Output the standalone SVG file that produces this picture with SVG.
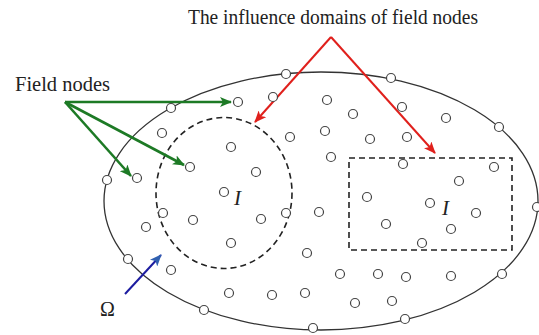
<svg xmlns="http://www.w3.org/2000/svg" width="539" height="335" viewBox="0 0 539 335">
<style>
.nd{fill:#fff;stroke:#444;stroke-width:1.2}
.dom{fill:none;stroke:#222;stroke-width:1.6;stroke-dasharray:6 4}
.g{stroke:#1d7a25;stroke-width:2.6;fill:none}
.r{stroke:#e0201c;stroke-width:2;fill:none}
.b{stroke:#1c1ca0;stroke-width:2;fill:none}
</style>
<defs>
<marker id="ag" markerUnits="userSpaceOnUse" markerWidth="12" markerHeight="10" refX="11" refY="5" orient="auto"><path d="M0,0 L12,5 L0,10 L3,5 Z" fill="#1d7a25"/></marker>
<marker id="ar" markerUnits="userSpaceOnUse" markerWidth="12" markerHeight="10" refX="11" refY="5" orient="auto"><path d="M0,0 L12,5 L0,10 L3,5 Z" fill="#e0201c"/></marker>
<marker id="ab" markerUnits="userSpaceOnUse" markerWidth="12" markerHeight="10" refX="11" refY="5" orient="auto"><path d="M0,0 L12,5 L0,10 L3,5 Z" fill="#3060b0"/></marker>
</defs>
<rect width="539" height="335" fill="#fff"/>
<g id="domain">
<ellipse cx="321" cy="201" rx="217" ry="129" fill="none" stroke="#333" stroke-width="1.3"/>
</g>
<g id="influence-circle"><ellipse class="dom" cx="224" cy="193" rx="68" ry="75.5"/></g>
<g id="influence-rect"><rect class="dom" x="349" y="158" width="163" height="92"/></g>
<g id="connectors">
<line class="g" x1="65" y1="102" x2="231" y2="102" marker-end="url(#ag)"/>
<line class="g" x1="65" y1="102" x2="184" y2="165" marker-end="url(#ag)"/>
<line class="g" x1="65" y1="102" x2="131" y2="176" marker-end="url(#ag)"/>
<line class="r" x1="331" y1="37" x2="255" y2="122" marker-end="url(#ar)"/>
<line class="r" x1="331" y1="37" x2="435" y2="153" marker-end="url(#ar)"/>
<line class="b" x1="125" y1="294" x2="161" y2="255" marker-end="url(#ab)"/>
</g>
<g id="nodes">
<circle class="nd" cx="286" cy="74" r="4.5"/>
<circle class="nd" cx="391" cy="78" r="4.5"/>
<circle class="nd" cx="499" cy="127" r="4.5"/>
<circle class="nd" cx="537" cy="207" r="4.5"/>
<circle class="nd" cx="502" cy="274" r="4.5"/>
<circle class="nd" cx="405" cy="319" r="4.5"/>
<circle class="nd" cx="313" cy="328" r="4.5"/>
<circle class="nd" cx="204" cy="310" r="4.5"/>
<circle class="nd" cx="128" cy="259" r="4.5"/>
<circle class="nd" cx="107" cy="180" r="4.5"/>
<circle class="nd" cx="171" cy="108" r="4.5"/>
<circle class="nd" cx="238" cy="102" r="4.5"/>
<circle class="nd" cx="273" cy="97" r="4.5"/>
<circle class="nd" cx="162" cy="133" r="4.5"/>
<circle class="nd" cx="231" cy="147" r="4.5"/>
<circle class="nd" cx="290" cy="137" r="4.5"/>
<circle class="nd" cx="190" cy="167" r="4.5"/>
<circle class="nd" cx="256" cy="172" r="4.5"/>
<circle class="nd" cx="137" cy="178" r="4.5"/>
<circle class="nd" cx="224" cy="192" r="4.5"/>
<circle class="nd" cx="327" cy="100" r="4.5"/>
<circle class="nd" cx="353" cy="114" r="4.5"/>
<circle class="nd" cx="402" cy="107" r="4.5"/>
<circle class="nd" cx="446" cy="118" r="4.5"/>
<circle class="nd" cx="325" cy="131" r="4.5"/>
<circle class="nd" cx="370" cy="139" r="4.5"/>
<circle class="nd" cx="407" cy="137" r="4.5"/>
<circle class="nd" cx="331" cy="157" r="4.5"/>
<circle class="nd" cx="403" cy="164" r="4.5"/>
<circle class="nd" cx="494" cy="167" r="4.5"/>
<circle class="nd" cx="459" cy="181" r="4.5"/>
<circle class="nd" cx="367" cy="197" r="4.5"/>
<circle class="nd" cx="163" cy="213" r="4.5"/>
<circle class="nd" cx="193" cy="220" r="4.5"/>
<circle class="nd" cx="261" cy="219" r="4.5"/>
<circle class="nd" cx="286" cy="213" r="4.5"/>
<circle class="nd" cx="319" cy="212" r="4.5"/>
<circle class="nd" cx="146" cy="227" r="4.5"/>
<circle class="nd" cx="231" cy="243" r="4.5"/>
<circle class="nd" cx="307" cy="253" r="4.5"/>
<circle class="nd" cx="171" cy="270" r="4.5"/>
<circle class="nd" cx="229" cy="293" r="4.5"/>
<circle class="nd" cx="272" cy="295" r="4.5"/>
<circle class="nd" cx="305" cy="293" r="4.5"/>
<circle class="nd" cx="430" cy="203" r="4.5"/>
<circle class="nd" cx="476" cy="213" r="4.5"/>
<circle class="nd" cx="386" cy="224" r="4.5"/>
<circle class="nd" cx="451" cy="229" r="4.5"/>
<circle class="nd" cx="422" cy="243" r="4.5"/>
<circle class="nd" cx="340" cy="274" r="4.5"/>
<circle class="nd" cx="378" cy="274" r="4.5"/>
<circle class="nd" cx="406" cy="277" r="4.5"/>
<circle class="nd" cx="451" cy="276" r="4.5"/>
<circle class="nd" cx="355" cy="303" r="4.5"/>
<circle class="nd" cx="392" cy="301" r="4.5"/>
</g>
<g id="labels" fill="#222">
<text font-family="Liberation Serif, DejaVu Serif, serif" x="188" y="24" font-size="20" textLength="290" lengthAdjust="spacingAndGlyphs">The influence domains of field nodes</text>
<text font-family="Liberation Serif, DejaVu Serif, serif" x="15" y="91" font-size="20" textLength="95" lengthAdjust="spacingAndGlyphs">Field nodes</text>
<text font-family="Liberation Serif, DejaVu Serif, serif" x="100" y="316" font-size="20">Ω</text>
<text font-family="Liberation Serif, DejaVu Serif, serif" x="234" y="205" font-size="21" font-style="italic">I</text>
<text font-family="Liberation Serif, DejaVu Serif, serif" x="442" y="215" font-size="21" font-style="italic">I</text>
</g>
</svg>
